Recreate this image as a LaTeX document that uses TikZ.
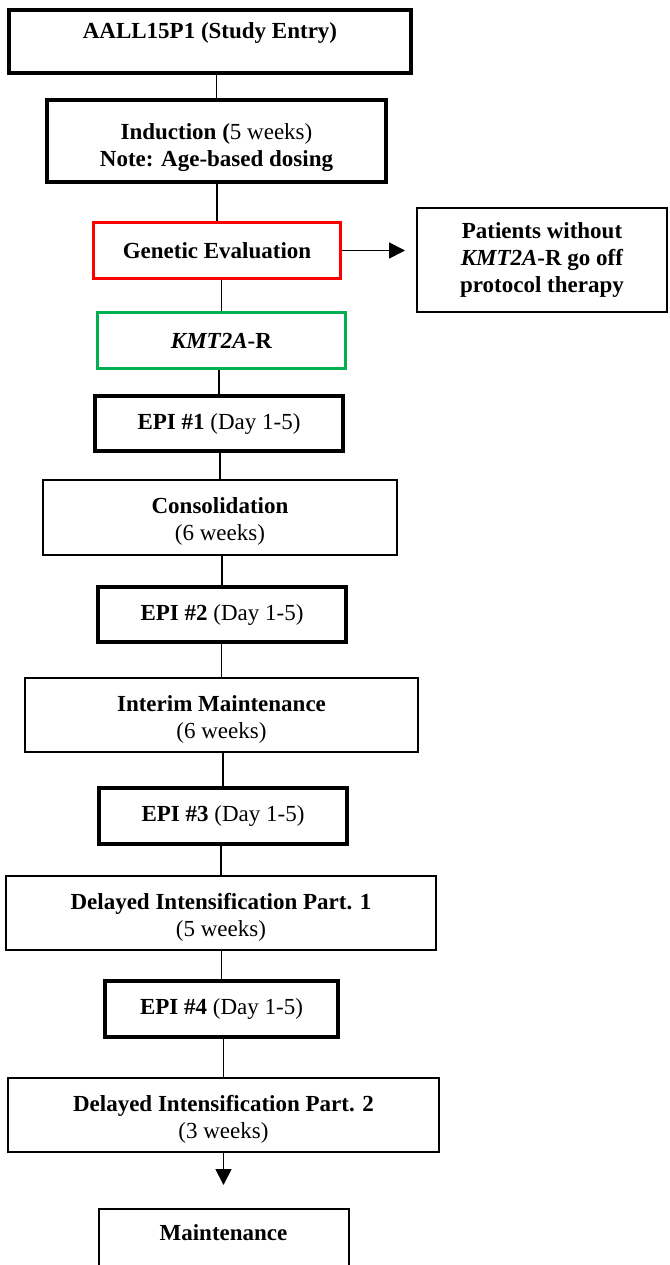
\documentclass[tikz,border=0pt]{standalone}
\usepackage{fontspec}
\setmainfont{Liberation Serif}
\usepackage{xcolor}
\usepackage{tikz}
\usetikzlibrary{calc, arrows.meta, positioning}

\definecolor{evalred}{RGB}{255,0,0}
\definecolor{kmtgreen}{RGB}{0,176,80}

\begin{document}
\begin{tikzpicture}[x=1pt, y=-1pt, >={Triangle[length=16pt, width=16pt]},
    box/.style={draw, line width=2pt, align=center, inner sep=2pt,
        font=\fontsize{23}{27}\selectfont},
    thickbox/.style={box, line width=4pt},
    colorbox/.style={box, line width=3.2pt},
    phasebox/.style={box, text height=51pt},
    link/.style={line width=1.8pt}]

    \useasboundingbox (0,0) rectangle (669,1265);

    % =================================================================
    % 1. ENTRY, INDUCTION AND GENETIC EVALUATION
    % =================================================================
    \node[thickbox, minimum width=402pt, minimum height=63pt, text depth=22pt]
        (entry) at (210, 41.5) {\textbf{AALL15P1 (Study Entry)}};
    \node[thickbox, minimum width=339pt, minimum height=82pt, text height=57pt]
        (induct) at (216.5, 141) {\textbf{Induction (}5 weeks)\\\textbf{Note: Age-based dosing}};
    \node[colorbox, draw=evalred, minimum width=247pt, minimum height=56pt]
        (geneval) at (217, 250.5) {\textbf{Genetic Evaluation}};
    \node[box, minimum width=250pt, minimum height=104pt]
        (offprot) at (542, 260) {\textbf{Patients without}\\\textbf{\textit{KMT2A}-R go off}\\\textbf{protocol therapy}};
    \node[colorbox, draw=kmtgreen, minimum width=248pt, minimum height=56pt]
        (kmt) at (221.5, 340.5) {\textbf{\textit{KMT2A}-R}};

    % =================================================================
    % 2. TREATMENT BLOCKS
    % =================================================================
    \node[thickbox, minimum width=248pt, minimum height=55pt]
        (epi1) at (219, 423.5) {\textbf{EPI \#1} (Day 1-5)};
    \node[phasebox, minimum width=354pt, minimum height=75pt]
        (consol) at (220, 517.5) {\textbf{Consolidation}\\(6 weeks)};
    \node[thickbox, minimum width=248pt, minimum height=55pt]
        (epi2) at (222, 614.5) {\textbf{EPI \#2} (Day 1-5)};
    \node[phasebox, minimum width=393pt, minimum height=74pt]
        (interim) at (221.5, 715) {\textbf{Interim Maintenance}\\(6 weeks)};
    \node[thickbox, minimum width=248pt, minimum height=56pt]
        (epi3) at (223, 816) {\textbf{EPI \#3} (Day 1-5)};
    \node[phasebox, minimum width=430pt, minimum height=74pt]
        (delint1) at (221, 913) {\textbf{Delayed Intensification Part. 1}\\(5 weeks)};
    \node[thickbox, minimum width=233pt, minimum height=56pt]
        (epi4) at (221.5, 1009) {\textbf{EPI \#4} (Day 1-5)};
    \node[phasebox, minimum width=431pt, minimum height=74pt]
        (delint2) at (223.5, 1115) {\textbf{Delayed Intensification Part. 2}\\(3 weeks)};
    \node[box, minimum width=250pt, minimum height=58pt, text depth=11pt]
        (maint) at (223.5, 1238) {\textbf{Maintenance}};

    % =================================================================
    % 3. CONNECTORS
    % =================================================================
    \foreach \a/\b in {entry/induct, induct/geneval, geneval/kmt, kmt/epi1,
        epi1/consol, consol/epi2, epi2/interim, interim/epi3, epi3/delint1,
        delint1/epi4, epi4/delint2} {
        \draw[link] (\b.north |- \a.south) -- (\b.north);
    }

    \draw[link, ->, shorten >=11pt] (geneval.east) -- (geneval.east -| offprot.west);
    \draw[link, ->, shorten >=23pt] (delint2.south) -- (delint2.south |- maint.north);

\end{tikzpicture}
\end{document}
